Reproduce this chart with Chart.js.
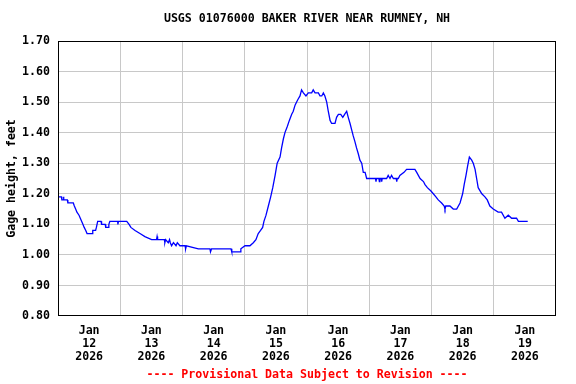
<!DOCTYPE html>
<html>
<head>
<meta charset="utf-8">
<script src="https://cdn.jsdelivr.net/npm/chart.js@4"></script>
<style>
  html, body { margin: 0; padding: 0; background: #fff; }
  #wrap { width: 576px; height: 384px; }
</style>
</head>
<body>
<div id="wrap"><canvas id="myChart"></canvas></div>
<script>
/* hours since Jan 12 2026 00:00 */
const hours = [0.0, 1.3, 1.5, 2.0, 2.1, 2.3, 3.6, 3.8, 5.9, 6.3, 6.8, 7.3, 8.1, 8.6, 9.1, 9.6,
    10.1, 10.7, 11.2, 13.2, 13.4, 14.5, 14.8, 15.3, 16.6, 16.8, 18.2, 18.4, 19.4, 19.6, 20.0,
    23.0, 23.1, 23.3, 26.5, 27.4, 28.1, 29.7, 31.6, 33.5, 36.1, 38.0, 38.2, 38.4, 41.0, 41.2,
    41.5, 42.5, 43.0, 43.3, 43.8, 44.5, 45.5, 46.0, 47.0, 49.0, 49.2, 49.5, 54.1, 58.6, 58.8,
    59.2, 66.7, 67.0, 70.2, 70.5, 72.1, 74.0, 75.3, 76.3, 77.2, 78.1, 78.9, 79.4, 80.2, 81.1,
    82.0, 82.8, 83.7, 84.5, 85.6, 86.2, 86.9, 87.5, 88.4, 89.2, 90.1, 90.7, 91.4, 92.0, 92.6,
    93.3, 93.9, 94.6, 95.6, 96.5, 97.8, 98.4, 99.1, 100.4, 101.0, 101.7, 102.3, 102.9, 103.6,
    104.2, 104.9, 105.5, 106.8, 107.4, 108.1, 109.0, 109.8, 110.5, 111.3, 111.9, 112.6, 113.2,
    113.8, 114.5, 115.1, 115.8, 116.4, 117.1, 117.7, 118.4, 119.0, 122.4, 122.6, 122.8, 123.7,
    123.9, 124.1, 124.6, 124.8, 125.0, 126.7, 127.3, 128.0, 128.6, 129.3, 130.4, 130.6, 130.8,
    131.2, 131.8, 133.4, 134.4, 137.6, 138.3, 139.6, 140.9, 141.5, 142.4, 143.7, 144.7, 145.7,
    146.6, 147.9, 148.9, 149.2, 149.5, 151.1, 152.4, 153.7, 155.0, 156.0, 156.6, 157.3, 157.9,
    158.6, 159.5, 160.1, 160.8, 161.4, 162.0, 163.4, 164.6, 165.5, 166.5, 167.8, 169.7, 171.0,
    172.3, 173.6, 174.9, 176.8, 177.5, 181.1
];

const gageHeight = [1.19, 1.19, 1.18, 1.18, 1.19, 1.18, 1.18, 1.17, 1.17, 1.16, 1.15, 1.14, 1.13, 1.12, 1.11, 1.10,
    1.09, 1.08, 1.07, 1.07, 1.08, 1.08, 1.09, 1.11, 1.11, 1.10, 1.10, 1.09, 1.09, 1.10, 1.11,
    1.11, 1.10, 1.11, 1.11, 1.10, 1.09, 1.08, 1.07, 1.06, 1.05, 1.05, 1.06, 1.05, 1.05, 1.04,
    1.05, 1.04, 1.05, 1.04, 1.03, 1.04, 1.03, 1.04, 1.03, 1.03, 1.02, 1.03, 1.02, 1.02, 1.01,
    1.02, 1.02, 1.01, 1.01, 1.02, 1.03, 1.03, 1.04, 1.05, 1.07, 1.08, 1.09, 1.11, 1.13, 1.16,
    1.19, 1.22, 1.26, 1.30, 1.32, 1.35, 1.38, 1.40, 1.42, 1.44, 1.46, 1.47, 1.49, 1.50, 1.51,
    1.52, 1.54, 1.53, 1.52, 1.53, 1.53, 1.54, 1.53, 1.53, 1.52, 1.52, 1.53, 1.52, 1.50,
    1.47, 1.44, 1.43, 1.43, 1.45, 1.46, 1.46, 1.45, 1.46, 1.47, 1.45, 1.43, 1.41,
    1.39, 1.37, 1.35, 1.33, 1.31, 1.30, 1.27, 1.27, 1.25, 1.25, 1.24, 1.25, 1.25,
    1.24, 1.25, 1.25, 1.24, 1.25, 1.25, 1.26, 1.25, 1.26, 1.25, 1.25, 1.24, 1.25,
    1.25, 1.26, 1.27, 1.28, 1.28, 1.27, 1.25, 1.24, 1.23, 1.22, 1.21, 1.20, 1.19,
    1.18, 1.17, 1.16, 1.15, 1.16, 1.16, 1.15, 1.15, 1.17, 1.20, 1.23, 1.26, 1.29,
    1.32, 1.31, 1.30, 1.28, 1.25, 1.22, 1.20, 1.19, 1.18, 1.16, 1.15, 1.14, 1.14,
    1.12, 1.13, 1.12, 1.12, 1.11, 1.11
];

const dayLabels = ['12', '13', '14', '15', '16', '17', '18', '19'];
const monthLabel = 'Jan';
const yearLabel = '2026';

const titleText = 'USGS 01076000 BAKER RIVER NEAR RUMNEY, NH';
const footerText = '---- Provisional Data Subject to Revision ----';

const monoFont = "'DejaVu Sans Mono', 'Liberation Mono', monospace";

const points = [];
for (let i = 0; i < hours.length; i++) {
    points.push({ x: hours[i], y: gageHeight[i] });
}

/* draws the black frame round the plot area */
const frame = {
    id: 'frame',
    afterDatasetsDraw(chart) {
        const a = chart.chartArea;
        const c = chart.ctx;
        c.save();
        c.strokeStyle = '#000';
        c.lineWidth = 1;
        c.strokeRect(Math.round(a.left) + 0.5, Math.round(a.top) + 0.5,
            Math.round(a.right - a.left) - 1, Math.round(a.bottom - a.top) - 1);
        c.restore();
    }
};

const ctx = document.getElementById('myChart');

new Chart(ctx, {
    type: 'line',
    data: {
        datasets: [{
            data: points,
            borderColor: '#0000ff',
            borderWidth: 1.3,
            pointRadius: 0,
            tension: 0,
            fill: false
        }]
    },
    options: {
        responsive: true,
        maintainAspectRatio: false,
        animation: false,
        layout: { padding: { left: 0, right: 20, top: 0, bottom: 0 } },
        scales: {
            x: {
                type: 'linear',
                min: 0,
                max: 192,
                border: { display: false },
                grid: {
                    drawTicks: false,
                    color: (c) => {
                        const v = c.tick ? c.tick.value : 0;
                        return (v % 24 === 0 && v > 0 && v < 192) ? '#c8c8c8' : 'rgba(0,0,0,0)';
                    }
                },
                ticks: {
                    stepSize: 12,
                    autoSkip: false,
                    maxRotation: 0,
                    padding: 8,
                    color: '#000',
                    font: { family: monoFont, size: 11.6, weight: 'bold', lineHeight: 1.12 },
                    callback: (value) => {
                        if (value % 24 !== 12) return '';
                        return [monthLabel, dayLabels[(value - 12) / 24], yearLabel];
                    }
                },
                afterFit: (scale) => { scale.height = 48; }
            },
            y: {
                min: 0.8,
                max: 1.7,
                border: { display: false },
                grid: {
                    drawTicks: false,
                    color: (c) => {
                        const v = c.tick ? c.tick.value : 0;
                        return (v > 0.805 && v < 1.695) ? '#c8c8c8' : 'rgba(0,0,0,0)';
                    }
                },
                ticks: {
                    stepSize: 0.1,
                    padding: 8,
                    color: '#000',
                    font: { family: monoFont, size: 11.6, weight: 'bold' },
                    callback: (value) => value.toFixed(2)
                },
                title: {
                    display: true,
                    text: 'Gage height, feet',
                    color: '#000',
                    padding: { top: 5, bottom: 0 },
                    font: { family: monoFont, size: 11.6, weight: 'bold' }
                },
                afterFit: (scale) => { scale.width = 58; }
            }
        },
        plugins: {
            legend: { display: false },
            tooltip: { enabled: false },
            title: {
                display: true,
                fullSize: false,
                text: titleText,
                color: '#000',
                padding: { top: 12, bottom: 15 },
                font: { family: monoFont, size: 11.6, weight: 'bold', lineHeight: 1.2 }
            },
            subtitle: {
                display: true,
                fullSize: false,
                position: 'bottom',
                text: footerText,
                color: '#ff0000',
                padding: { top: 4, bottom: 2 },
                font: { family: monoFont, size: 11.6, weight: 'bold', lineHeight: 1.2 }
            }
        }
    },
    plugins: [frame]
});
</script>
</body>
</html>
